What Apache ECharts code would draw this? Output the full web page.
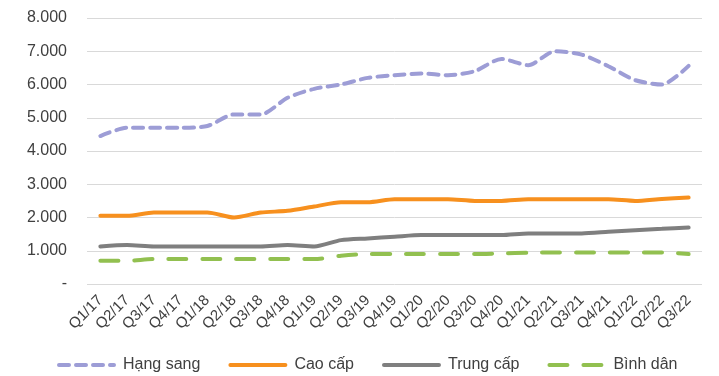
<!DOCTYPE html>
<html>
<head>
<meta charset="utf-8">
<script src="https://cdn.jsdelivr.net/npm/echarts@6/dist/echarts.min.js"></script>
<style>
  html, body { margin: 0; padding: 0; background: #ffffff; }
  #chart { width: 719px; height: 376px; }
</style>
</head>
<body>
<div id="chart"></div>
<script>
// Quarterly price levels by housing segment
const quarters = ['Q1/17','Q2/17','Q3/17','Q4/17','Q1/18','Q2/18','Q3/18','Q4/18','Q1/19','Q2/19','Q3/19','Q4/19',
  'Q1/20','Q2/20','Q3/20','Q4/20','Q1/21','Q2/21','Q3/21','Q4/21','Q1/22','Q2/22','Q3/22'];

const hangSang  = [4450, 4700, 4700, 4700, 4750, 5100, 5100, 5600, 5870, 6000, 6200, 6280,
  6330, 6280, 6400, 6770, 6580, 7000, 6900, 6550, 6130, 6000, 6560];
const caoCap    = [2050, 2050, 2150, 2150, 2150, 2000, 2150, 2200, 2330, 2460, 2460, 2550,
  2550, 2550, 2500, 2500, 2550, 2550, 2550, 2550, 2500, 2560, 2600];
const trungCap  = [1130, 1170, 1130, 1130, 1130, 1130, 1130, 1170, 1130, 1320, 1370, 1420,
  1470, 1470, 1470, 1470, 1520, 1520, 1520, 1570, 1620, 1660, 1700];
const binhDan   = [700, 700, 750, 750, 750, 750, 750, 750, 750, 850, 900, 900,
  900, 900, 900, 920, 940, 950, 950, 950, 950, 950, 900];

const yTicks = { min: 0, max: 8000, interval: 1000 };

function fmtY(v) {
  if (v === 0) return '-';
  return (v / 1000).toFixed(0) + '.000';
}

const chart = echarts.init(document.getElementById('chart'), null, { renderer: 'canvas' });
const font = 'Liberation Sans, Arial, sans-serif';

function lineSeries(name, data, color, dash) {
  return {
    name: name,
    type: 'line',
    data: data,
    showSymbol: false,
    symbol: 'none',
    smooth: 0.25,
    lineStyle: { color: color, width: 4, type: dash || 'solid', cap: 'round' },
    itemStyle: { color: color }
  };
}

chart.setOption({
  animation: false,
  grid: { left: 87, right: 17, top: 18, bottom: 92, containLabel: false },
  xAxis: {
    type: 'category',
    data: quarters,
    boundaryGap: true,
    axisLine: { show: false },
    axisTick: { show: false },
    axisLabel: { rotate: 45, fontSize: 15, color: '#404040', fontFamily: font, margin: 14, interval: 0 }
  },
  yAxis: {
    type: 'value',
    min: yTicks.min, max: yTicks.max, interval: yTicks.interval,
    axisLine: { show: false },
    axisTick: { show: false },
    splitLine: { lineStyle: { color: '#d9d9d9', width: 1 } },
    axisLabel: { formatter: fmtY, fontSize: 16, color: '#404040', fontFamily: font, margin: 20 }
  },
  legend: {
    bottom: -2,
    left: 52,
    orient: 'horizontal',
    itemWidth: 55,
    itemHeight: 12,
    itemGap: 28,
    itemStyle: { opacity: 0 },
    lineStyle: { width: 4 },
    textStyle: { fontSize: 16, color: '#404040', fontFamily: font, padding: [0, 0, 0, 4] },
    data: ['Hạng sang', 'Cao cấp', 'Trung cấp', 'Bình dân']
  },
  series: [
    lineSeries('Hạng sang', hangSang, '#9d9dd6', [10, 7]),
    lineSeries('Cao cấp', caoCap, '#f7901e'),
    lineSeries('Trung cấp', trungCap, '#7f7f7f'),
    lineSeries('Bình dân', binhDan, '#92c050', [18, 16])
  ]
});
</script>
</body>
</html>
